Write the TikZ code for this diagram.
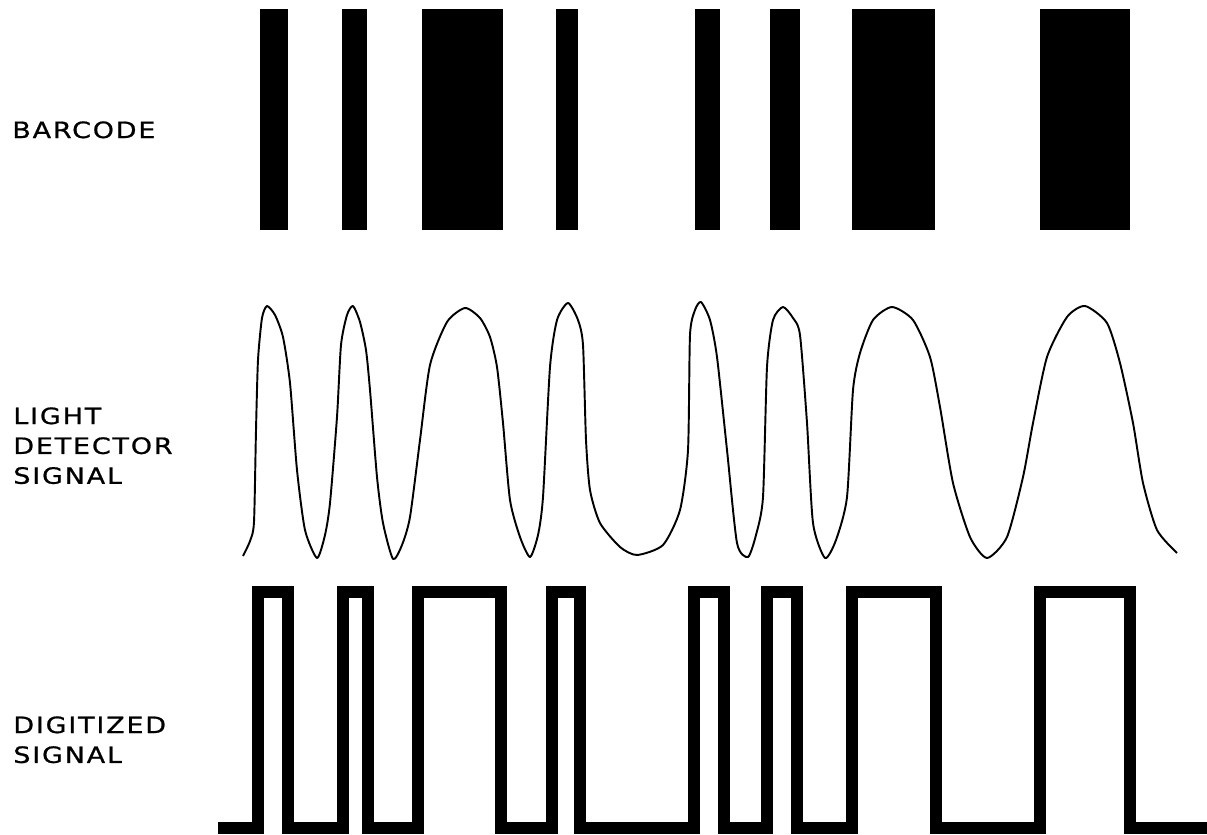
\documentclass[tikz,border=0pt]{standalone}
\usepackage{fontspec}
\newfontfamily\lblfont[FakeStretch=1.2, LetterSpace=8, FakeBold=0.8]{DejaVu Sans}
\tikzset{
    sig label/.style={anchor=north west, inner sep=0pt, align=left, font=\lblfont\fontsize{12.8}{17}\selectfont},
    bar/.style={fill=black},
    analog/.style={line width=1.1pt, line join=round},
    digital/.style={line width=6.8pt, line join=miter}
}

\begin{document}
\begin{tikzpicture}[x=0.02cm, y=-0.02cm]
    \useasboundingbox (0,0) rectangle (1207,835);
    %
    \node[sig label] (bcLabel) at (12,121) {BARCODE};
    \node[sig label] (ldsLabel) at (13,407) {LIGHT\\DETECTOR\\SIGNAL};
    \node[sig label] (digLabel) at (13,716) {DIGITIZED\\SIGNAL};
    %
    \foreach \a/\b in {260/288, 342/367, 422/503, 556/578, 695/720, 770/800, 852/935, 1040/1130}
        \fill[bar] (\a,9) rectangle (\b,230);
    %
    \draw[analog] plot[smooth, tension=0.4] coordinates {
        (243,556) (250,541) (254,522) (256,430) (258,360) (262,318) (267,306)
        (275,315) (283,337) (290,383) (297,470) (305,530) (317,558)
        (325,535) (330,503) (337,417) (341,345) (347,315) (353,306)
        (360,322) (366,350) (370,390) (377,477) (383,523) (393,559)
        (402,545) (410,517) (420,440) (430,365) (447,322) (465,308)
        (480,318) (490,337) (497,367) (503,423) (510,500) (520,537) (530,557)
        (538,535) (543,497) (550,367) (557,320) (568,303)
        (578,320) (583,345) (586,440) (590,490) (600,523) (620,547) (637,555)
        (663,545) (680,510) (688,450) (690,335) (695,310) (701,302)
        (710,320) (717,357) (727,450) (737,543) (748,557)
        (756,535) (763,497) (767,367) (773,320) (783,307)
        (793,318) (800,335) (807,423) (813,523) (825,558)
        (836,540) (847,497) (853,390) (860,353) (873,320) (892,307)
        (913,320) (930,357) (940,407) (953,483) (970,537) (987,558)
        (1007,537) (1023,477) (1033,423) (1047,357) (1067,317) (1085,306)
        (1107,323) (1120,363) (1133,423) (1143,483) (1157,530) (1177,553)};
    %
    \draw[digital] (218,828) -- (258,828) |- (288,592) |- (343,828) |- (368,592) |- (418,828)
        |- (501,592) |- (552,828) |- (580,592) |- (694,828) |- (724,592) |- (767,828)
        |- (797,592) |- (852,828) |- (936,592) |- (1040,828) |- (1130,592) |- (1207,828);
\end{tikzpicture}
\end{document}
